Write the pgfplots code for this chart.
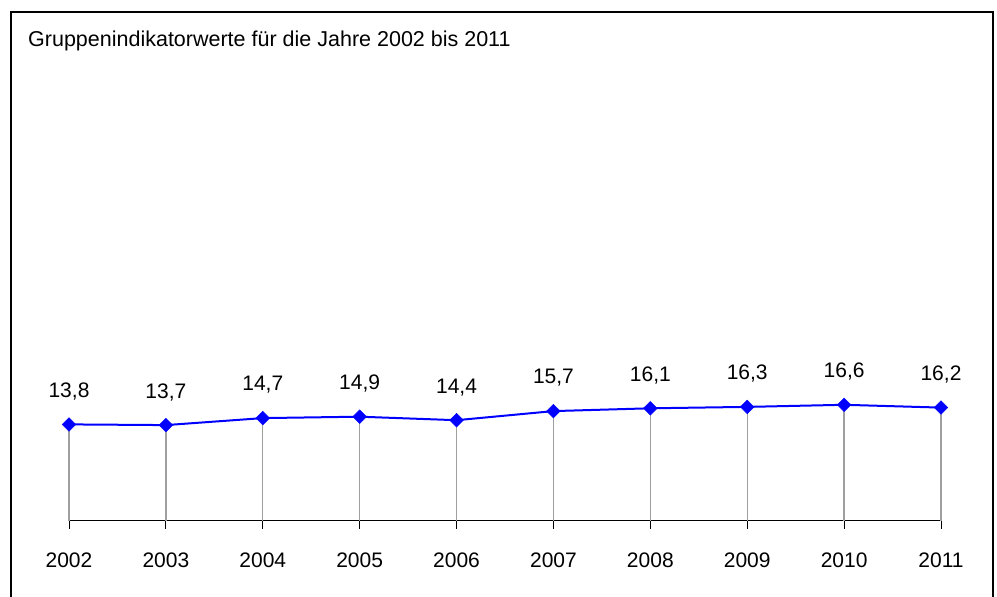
\documentclass[border=0pt]{standalone}
\usepackage{fontspec}
\setmainfont{Liberation Sans}
\usepackage{pgfplots}
\pgfplotsset{compat=1.18}
\begin{document}
\begin{tikzpicture}[x=1pt,y=1pt]
	\useasboundingbox (0,0) rectangle (997,597);
	\draw[line width=1.5pt] (11,-2) -- (11,585) -- (993,585) -- (993,-2);
	\node[anchor=base west, inner sep=0pt, font=\fontsize{21.5}{25}\selectfont] at (28,550) {Gruppenindikatorwerte für die Jahre 2002 bis 2011};
	\begin{axis}[at={(69pt,76pt)}, anchor=origin, scale only axis,
		width=872pt, height=490pt,
		xmin=2002, xmax=2011, ymin=0, ymax=70,
		axis x line=bottom, axis y line=none,
		axis line style={black, line width=1pt, -},
		xtick=data, tick style={black, line width=0.8pt},
		tick align=outside, major tick length=8pt,
		xticklabel style={/pgf/number format/1000 sep={}, font=\fontsize{21}{25}\selectfont, yshift=-20pt},
		/pgf/number format/assume math mode=true,
		clip=false,
	]
		\addplot[gray!75, line width=1.3pt, ycomb, no marks] coordinates {
			(2002,13.8) (2003,13.7) (2004,14.7) (2005,14.9) (2006,14.4)
			(2007,15.7) (2008,16.1) (2009,16.3) (2010,16.6) (2011,16.2)};
		\addplot[blue, line width=2pt, mark=square*, mark size=4.8pt,
			mark options={blue, fill=blue, line width=0.5pt, rotate=45},
			nodes near coords,
			every node near coord/.append style={font=\fontsize{21}{25}\selectfont, text=black, anchor=center, yshift=33pt, rotate=0,
				/pgf/number format/.cd, fixed, precision=1, fixed zerofill, use comma, assume math mode=true},
		] coordinates {
			(2002,13.8) (2003,13.7) (2004,14.7) (2005,14.9) (2006,14.4)
			(2007,15.7) (2008,16.1) (2009,16.3) (2010,16.6) (2011,16.2)};
	\end{axis}
\end{tikzpicture}
\end{document}
